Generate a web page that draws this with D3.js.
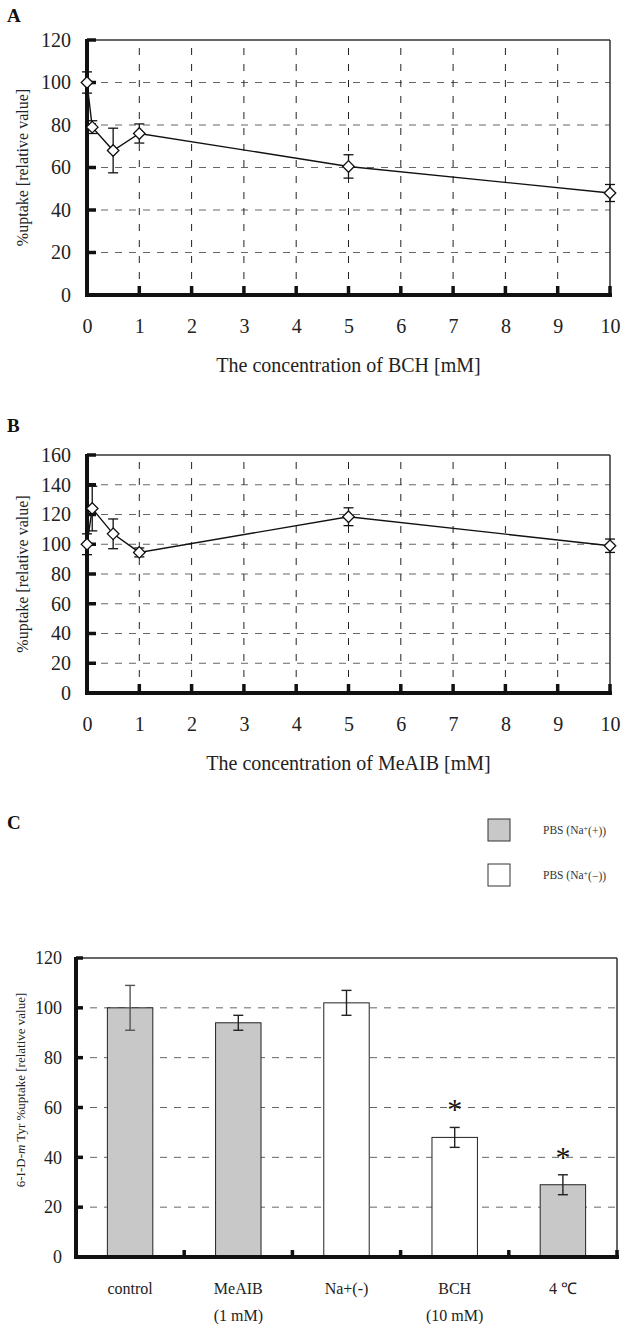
<!DOCTYPE html>
<meta charset="utf-8">
<style>
    body { margin: 0; background: #fff; }
    svg { display: block; }
    text { font-family: "Liberation Serif", "Times New Roman", serif; fill: #222; }
    .panel-letter { font-weight: bold; font-size: 19px; fill: #111; }
    .hgrid { stroke: #666; stroke-dasharray: 7,7; stroke-width: 1; }
    .vgrid { stroke: #222; stroke-dasharray: 7,9; stroke-width: 1; }
</style>

<svg width="622" height="1324"></svg>

<script src="https://d3js.org/d3.v7.min.js"></script>
<script>
// panel A / B : concentration series
var conc = [0, 0.1, 0.5, 1, 5, 10];
var uptakeBCH = [100, 79, 68, 76, 60.5, 48];
var errBCH = [5, 3, 10.5, 4.5, 5.5, 4];
var uptakeMeAIB = [100, 124, 107, 94.5, 118.5, 99];
var errMeAIB = [7, 15, 10, 3, 6, 4.5];
var xTicks = [0, 1, 2, 3, 4, 5, 6, 7, 8, 9, 10];

// panel C : bars
var conditions = [["control"], ["MeAIB", "(1 mM)"], ["Na+(-)"], ["BCH", "(10 mM)"], ["4 \u2103"]];
var barValues = [100, 94, 102, 48, 29];
var barErrors = [9, 3, 5, 4, 4];
var sodium = ["+", "+", "-", "-", "+"];
var significant = [false, false, false, true, true];

var svg = d3.select("svg");

function linePanel(opt) {
    var x = d3.scaleLinear().domain([0, 10]).range([87, 610]);
    var y = d3.scaleLinear().domain([0, opt.yMax]).range([opt.bottom, opt.top]);
    var yTicks = d3.range(0, opt.yMax + 1, 20);
    var g = svg.append("g");

    g.append("text").attr("class", "panel-letter")
        .attr("x", 7).attr("y", opt.letterY).attr("dy", "0.35em").text(opt.letter);

    // grid
    g.selectAll(".hgrid").data(yTicks.slice(1, -1)).enter().append("line")
        .attr("class", "hgrid")
        .attr("x1", x(0)).attr("x2", x(10))
        .attr("y1", y).attr("y2", y);
    g.selectAll(".vgrid").data(xTicks.slice(1, -1)).enter().append("line")
        .attr("class", "vgrid")
        .attr("x1", x).attr("x2", x)
        .attr("y1", y(0)).attr("y2", y(opt.yMax));

    // frame
    g.append("line").attr("x1", x(0)).attr("x2", x(10)).attr("y1", y(opt.yMax)).attr("y2", y(opt.yMax))
        .attr("stroke", "#333").attr("stroke-width", 1.5);
    g.append("line").attr("x1", x(10)).attr("x2", x(10)).attr("y1", y(opt.yMax)).attr("y2", y(0))
        .attr("stroke", "#333").attr("stroke-width", 1.5);
    g.append("line").attr("x1", x(0)).attr("x2", x(0)).attr("y1", y(opt.yMax) - 1).attr("y2", y(0) + 2)
        .attr("stroke", "#111").attr("stroke-width", 4);
    g.append("line").attr("x1", x(0) - 2).attr("x2", x(10) + 2).attr("y1", y(0)).attr("y2", y(0))
        .attr("stroke", "#111").attr("stroke-width", 4);

    // tick marks
    g.selectAll(".ytick").data(yTicks).enter().append("line")
        .attr("x1", x(0)).attr("x2", x(0) + 9)
        .attr("y1", y).attr("y2", y)
        .attr("stroke", "#111").attr("stroke-width", 3.5);
    g.selectAll(".xtick").data(xTicks.slice(1)).enter().append("line")
        .attr("x1", x).attr("x2", x)
        .attr("y1", y(0)).attr("y2", y(0) - 9)
        .attr("stroke", "#111").attr("stroke-width", 3.5);

    // axes labels via d3 axes
    var ya = g.append("g").attr("transform", "translate(" + x(0) + ",0)")
        .call(d3.axisLeft(y).tickValues(yTicks).tickSize(0).tickPadding(16));
    ya.select(".domain").remove();
    ya.selectAll("text").style("font-size", "20px").attr("font-family", null);

    var xa = g.append("g").attr("transform", "translate(0," + y(0) + ")")
        .call(d3.axisBottom(x).tickValues(xTicks).tickSize(0).tickPadding(24));
    xa.select(".domain").remove();
    xa.selectAll("text").style("font-size", "20px").attr("font-family", null);

    g.append("text")
        .attr("x", (x(0) + x(10)) / 2).attr("y", y(0) + 70).attr("dy", "0.35em")
        .attr("text-anchor", "middle").style("font-size", "20px").text(opt.xTitle);
    g.append("text")
        .attr("transform", "translate(22," + ((opt.top + opt.bottom) / 2) + ") rotate(-90)")
        .attr("text-anchor", "middle").attr("dy", "0.35em")
        .style("font-size", "16px").text("%uptake [relative value]");

    // data
    var line = d3.line().x(function(d, i) { return x(conc[i]); }).y(function(d) { return y(d); });
    g.append("path").datum(opt.values).attr("d", line)
        .attr("fill", "none").attr("stroke", "#111").attr("stroke-width", 1.4);

    var eb = g.selectAll(".err").data(opt.values).enter().append("g")
        .attr("stroke", "#111").attr("stroke-width", 1.3);
    eb.append("line")
        .attr("x1", function(d, i) { return x(conc[i]); }).attr("x2", function(d, i) { return x(conc[i]); })
        .attr("y1", function(d, i) { return y(d + opt.errors[i]); })
        .attr("y2", function(d, i) { return y(d - opt.errors[i]); });
    [1, -1].forEach(function(s) {
        eb.append("line")
            .attr("x1", function(d, i) { return x(conc[i]) - 5; }).attr("x2", function(d, i) { return x(conc[i]) + 5; })
            .attr("y1", function(d, i) { return y(d + s * opt.errors[i]); })
            .attr("y2", function(d, i) { return y(d + s * opt.errors[i]); });
    });

    g.selectAll(".pt").data(opt.values).enter().append("path")
        .attr("d", d3.symbol().type(d3.symbolDiamond2).size(85))
        .attr("transform", function(d, i) { return "translate(" + x(conc[i]) + "," + y(d) + ")"; })
        .attr("fill", "#fff").attr("stroke", "#111").attr("stroke-width", 1.3);
}

linePanel({ letter: "A", letterY: 15, top: 40, bottom: 295, yMax: 120,
    values: uptakeBCH, errors: errBCH, xTitle: "The concentration of BCH [mM]" });
linePanel({ letter: "B", letterY: 425, top: 455, bottom: 693, yMax: 160,
    values: uptakeMeAIB, errors: errMeAIB, xTitle: "The concentration of MeAIB [mM]" });

// ---- panel C ----
var gc = svg.append("g");
gc.append("text").attr("class", "panel-letter")
    .attr("x", 7).attr("y", 822).attr("dy", "0.35em").text("C");

var xb = d3.scaleBand().domain(d3.range(conditions.length)).range([76, 617]).paddingInner(0.58).paddingOuter(0.29);
var yb = d3.scaleLinear().domain([0, 120]).range([1257, 958]);
var yTicksC = d3.range(0, 121, 20);
var fillOf = function(s) { return s === "+" ? "#c8c8c8" : "#fff"; };

// legend
var legend = gc.selectAll(".leg").data(["+", "-"]).enter().append("g")
    .attr("transform", function(d, i) { return "translate(488," + (819 + i * 45) + ")"; });
legend.append("rect").attr("width", 22).attr("height", 22)
    .attr("fill", fillOf).attr("stroke", "#333").attr("stroke-width", 1);
var lt = legend.append("text").attr("x", 55).attr("y", 11).attr("dy", "0.35em")
    .style("font-size", "11.5px").style("fill", "#333");
lt.append("tspan").text("PBS (Na");
lt.append("tspan").attr("dy", "-0.4em").style("font-size", "8px").text("+");
lt.append("tspan").attr("dy", "0.4em").text(function(d) { return d === "+" ? "(+))" : "(\u2212))"; });

gc.selectAll(".hgridc").data(yTicksC.slice(1, -1)).enter().append("line")
    .attr("class", "hgrid")
    .attr("x1", 76).attr("x2", 617).attr("y1", yb).attr("y2", yb);

gc.append("line").attr("x1", 76).attr("x2", 617).attr("y1", yb(120)).attr("y2", yb(120))
    .attr("stroke", "#333").attr("stroke-width", 1.5);
gc.append("line").attr("x1", 617).attr("x2", 617).attr("y1", yb(120)).attr("y2", yb(0))
    .attr("stroke", "#333").attr("stroke-width", 1.5);

// bars
gc.selectAll(".bar").data(barValues).enter().append("rect")
    .attr("x", function(d, i) { return xb(i); })
    .attr("width", xb.bandwidth())
    .attr("y", function(d) { return yb(d); })
    .attr("height", function(d) { return yb(0) - yb(d); })
    .attr("fill", function(d, i) { return fillOf(sodium[i]); })
    .attr("stroke", "#222").attr("stroke-width", 1);

var ebc = gc.selectAll(".errc").data(barValues).enter().append("g")
    .attr("stroke", function(d, i) { return i === 0 ? "#555" : "#222"; }).attr("stroke-width", 1.4);
var cx = function(d, i) { return xb(i) + xb.bandwidth() / 2; };
ebc.append("line").attr("x1", cx).attr("x2", cx)
    .attr("y1", function(d, i) { return yb(d + barErrors[i]); })
    .attr("y2", function(d, i) { return yb(d - barErrors[i]); });
[1, -1].forEach(function(s) {
    ebc.append("line")
        .attr("x1", function(d, i) { return cx(d, i) - 5; }).attr("x2", function(d, i) { return cx(d, i) + 5; })
        .attr("y1", function(d, i) { return yb(d + s * barErrors[i]); })
        .attr("y2", function(d, i) { return yb(d + s * barErrors[i]); });
});

gc.selectAll(".star").data(barValues).enter().filter(function(d, i) { return significant[i]; })
    .append("text")
    .attr("x", function(d) { var i = barValues.indexOf(d); return cx(d, i); })
    .attr("y", function(d) { var i = barValues.indexOf(d); return yb(d + barErrors[i]) - 8; })
    .attr("text-anchor", "middle")
    .style("font-size", "30px").style("fill", "#111").text("*");

// axes frame
gc.append("line").attr("x1", 76).attr("x2", 76).attr("y1", yb(120) - 1).attr("y2", yb(0) + 2)
    .attr("stroke", "#111").attr("stroke-width", 4);
gc.append("line").attr("x1", 74).attr("x2", 619).attr("y1", yb(0)).attr("y2", yb(0))
    .attr("stroke", "#111").attr("stroke-width", 4);
gc.selectAll(".ytc").data(yTicksC).enter().append("line")
    .attr("x1", 76).attr("x2", 83).attr("y1", yb).attr("y2", yb)
    .attr("stroke", "#111").attr("stroke-width", 3.5);
gc.selectAll(".xtc").data(d3.range(1, conditions.length + 1)).enter().append("line")
    .attr("x1", function(i) { return 76 + i * xb.step(); })
    .attr("x2", function(i) { return 76 + i * xb.step(); })
    .attr("y1", yb(0)).attr("y2", yb(0) - 7)
    .attr("stroke", "#111").attr("stroke-width", 3.5);

var yac = gc.append("g").attr("transform", "translate(76,0)")
    .call(d3.axisLeft(yb).tickValues(yTicksC).tickSize(0).tickPadding(14));
yac.select(".domain").remove();
yac.selectAll("text").style("font-size", "18px").attr("font-family", null);

var xl = gc.selectAll(".xl").data(conditions).enter().append("text")
    .attr("text-anchor", "middle").style("font-size", "16px");
xl.selectAll("tspan").data(function(d, i) { return d.map(function(s) { return { s: s, i: i }; }); })
    .enter().append("tspan")
    .attr("x", function(d) { return xb(d.i) + xb.bandwidth() / 2; })
    .attr("y", function(d, j) { return 1288 + j * 27; })
    .attr("dy", "0.35em")
    .text(function(d) { return d.s; });

var ylab = gc.append("text")
    .attr("transform", "translate(20,1090) rotate(-90)")
    .attr("text-anchor", "middle").attr("dy", "0.35em")
    .style("font-size", "13px");
ylab.append("tspan").text("6-I-D-");
ylab.append("tspan").style("font-style", "italic").text("m");
ylab.append("tspan").text(" Tyr %uptake [relative value]");
</script>
